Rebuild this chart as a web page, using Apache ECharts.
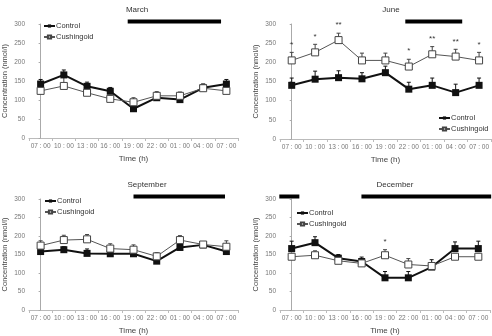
<!DOCTYPE html>
<html>
<head>
<meta charset="utf-8">
<script src="https://cdn.jsdelivr.net/npm/echarts@6/dist/echarts.min.js"></script>
<style>
  html, body { margin: 0; padding: 0; background: #fff; }
  #chart { width: 492px; height: 336px; }
</style>
</head>
<body>
<div id="chart"></div>
<script>
  // sampling times
  var times = ['07 : 00', '10 : 00', '13 : 00', '16 : 00', '19 : 00', '22 : 00', '01 : 00', '04 : 00', '07 : 00'];
  var months = ['March', 'June', 'September', 'December'];

  // mean values and top of the error bar (mean + SEM), nmol/l
  var marchControl = [142, 166, 136, 123, 77, 106, 101, 132, 142];
  var marchControlTop = [154, 179, 147, 133, 86, 114, 109, 142, 154];
  var marchCushing = [124, 137, 119, 103, 94, 111, 111, 131, 124];
  var marchCushingTop = [132, 160, 127, 112, 106, 122, 121, 142, 132];

  var juneControl = [140, 156, 160, 157, 173, 130, 140, 121, 140];
  var juneControlTop = [159, 177, 178, 173, 190, 148, 159, 143, 159];
  var juneCushing = [205, 226, 258, 205, 205, 189, 221, 215, 205];
  var juneCushingTop = [226, 247, 276, 224, 224, 208, 241, 234, 226];
  var juneSig = ['*', '*', '**', '', '', '*', '**', '**', '*'];

  var septControl = [158, 163, 153, 152, 152, 132, 169, 176, 158];
  var septControlTop = [166, 171, 165, 160, 160, 139, 177, 182, 166];
  var septCushing = [174, 189, 191, 166, 163, 145, 189, 177, 171];
  var septCushingTop = [187, 202, 204, 179, 176, 155, 201, 183, 187];

  var decControl = [166, 182, 140, 131, 87, 87, 116, 166, 166];
  var decControlTop = [186, 198, 150, 143, 104, 104, 136, 184, 186];
  var decCushing = [144, 148, 133, 126, 148, 123, 119, 144, 144];
  var decCushingTop = [153, 160, 141, 136, 163, 139, 127, 153, 153];
  var decSig = ['', '', '', '', '*', '', '', '', ''];

  // dark period, in sampling-step units from the first 07:00 point
  var marchDark = [[3.75, 7.77]];
  var juneDark = [[4.85, 7.28]];
  var septDark = [[4.0, 7.94]];
  var decDark = [[-0.53, 0.33], [2.99, 8.55]];

  var panels = [
    { c: marchControl, ct: marchControlTop, k: marchCushing, kt: marchCushingTop, sig: null, dark: marchDark },
    { c: juneControl, ct: juneControlTop, k: juneCushing, kt: juneCushingTop, sig: juneSig, dark: juneDark },
    { c: septControl, ct: septControlTop, k: septCushing, kt: septCushingTop, sig: null, dark: septDark },
    { c: decControl, ct: decControlTop, k: decCushing, kt: decCushingTop, sig: decSig, dark: decDark }
  ];

  var FONT = "'Liberation Sans Narrow', 'Liberation Sans', sans-serif";

  var grids = [
    { left: 26, top: 24, width: 212, height: 114 },
    { left: 280, top: 24, width: 211, height: 115 },
    { left: 26, top: 199, width: 212, height: 115 },
    { left: 280, top: 199, width: 210, height: 115 }
  ];
  var titlePos = [[132, 1], [386, 1], [142, 176], [390, 176]];
  var legendPos = [
    { left: 43, top: 22 },
    { left: 438, top: 114 },
    { left: 44, top: 197 },
    { left: 296, top: 209 }
  ];

  function errItem(color) {
    return function (params, api) {
      var p0 = api.coord([api.value(0), api.value(1)]);
      var p1 = api.coord([api.value(0), api.value(2)]);
      return {
        type: 'group',
        children: [
          { type: 'line', shape: { x1: p0[0], y1: p0[1], x2: p1[0], y2: p1[1] }, style: { stroke: color, lineWidth: 1 } },
          { type: 'line', shape: { x1: p1[0] - 2, y1: p1[1], x2: p1[0] + 2, y2: p1[1] }, style: { stroke: color, lineWidth: 1 } }
        ]
      };
    };
  }

  function errData(mean, top) {
    return mean.map(function (v, i) { return [i, v, top[i]]; });
  }

  var chart = echarts.init(document.getElementById('chart'));
  var title = [], xAxis = [], yAxis = [], series = [], legend = [];

  panels.forEach(function (p, i) {
    title.push({
      text: months[i], left: titlePos[i][0], top: titlePos[i][1], textAlign: 'center',
      textStyle: { fontFamily: FONT, fontSize: 8, fontWeight: 'normal', color: '#333' }
    });
    legend.push({
      left: legendPos[i].left, top: legendPos[i].top, orient: 'vertical',
      itemWidth: 11, itemHeight: 4, itemGap: 3, padding: 0,
      data: ['Control', 'Cushingoid'].map(function (n) { return { name: n }; }),
      textStyle: { fontFamily: FONT, fontSize: 7.5, color: '#333', padding: [0, 0, 0, -4] }
    });
    xAxis.push({
      type: 'category', gridIndex: i, data: times,
      name: 'Time (h)', nameLocation: 'middle', nameGap: 17,
      nameTextStyle: { fontFamily: FONT, fontSize: 8, color: '#444' },
      axisLine: { lineStyle: { color: '#bbb', width: 1 } },
      axisTick: { show: true, length: 3, lineStyle: { color: '#bbb' } },
      axisLabel: { interval: 0, fontFamily: FONT, fontSize: 6.5, color: '#777', margin: 5 }
    });
    xAxis.push({
      type: 'value', gridIndex: i, min: -0.5, max: 8.5, show: false
    });
    yAxis.push({
      type: 'value', gridIndex: i, min: 0, max: 300, interval: 50,
      name: 'Concentration (nmol/l)', nameLocation: 'middle', nameGap: 20,
      nameTextStyle: { fontFamily: FONT, fontSize: 7.5, color: '#444' },
      axisLine: { show: true, lineStyle: { color: '#aaa', width: 1 } },
      axisTick: { show: true, length: 2, lineStyle: { color: '#aaa' } },
      axisLabel: { fontFamily: FONT, fontSize: 6.5, color: '#777', margin: 4 },
      splitLine: { show: false }
    });

    var cx = i * 2;
    series.push({
      type: 'custom', xAxisIndex: cx, yAxisIndex: i, z: 1, silent: true,
      renderItem: errItem('#111'), encode: { x: 0, y: [1, 2] },
      data: errData(p.c, p.ct)
    });
    series.push({
      type: 'custom', xAxisIndex: cx, yAxisIndex: i, z: 1, silent: true,
      renderItem: errItem('#444'), encode: { x: 0, y: [1, 2] },
      data: errData(p.k, p.kt)
    });
    series.push({
      name: 'Control', type: 'line', xAxisIndex: cx, yAxisIndex: i, z: 3,
      data: p.c, symbol: 'rect', symbolSize: 7, showAllSymbol: true,
      lineStyle: { color: '#111', width: 2 },
      itemStyle: { color: '#111', borderColor: '#111', borderWidth: 0 }
    });
    series.push({
      name: 'Cushingoid', type: 'line', xAxisIndex: cx, yAxisIndex: i, z: 4,
      data: p.k, symbol: 'rect', symbolSize: 7, showAllSymbol: true,
      lineStyle: { color: '#555', width: 1 },
      itemStyle: { color: '#fff', borderColor: '#444', borderWidth: 1 }
    });
    if (p.sig) {
      series.push({
        type: 'custom', xAxisIndex: cx, yAxisIndex: i, z: 5, silent: true,
        encode: { x: 0, y: 1 },
        data: p.kt.map(function (v, j) { return [j, v, p.sig[j]]; }),
        renderItem: function (params, api) {
          var s = p.sig[params.dataIndex];
          if (!s) return null;
          var pt = api.coord([api.value(0), api.value(1)]);
          return {
            type: 'text',
            style: { text: s, x: pt[0], y: pt[1] - 4, align: 'center', verticalAlign: 'bottom',
                     fontSize: 8, fontFamily: FONT, fill: '#333' }
          };
        }
      });
    }
    series.push({
      type: 'custom', xAxisIndex: cx + 1, yAxisIndex: i, z: 5, silent: true,
      encode: { x: [0, 1], y: 2 },
      data: p.dark.map(function (d) { return [d[0], d[1], 300]; }),
      renderItem: function (params, api) {
        var a = api.coord([api.value(0), api.value(2)]);
        var b = api.coord([api.value(1), api.value(2)]);
        return {
          type: 'rect',
          shape: { x: a[0], y: a[1] - 4.5, width: b[0] - a[0], height: 4 },
          style: { fill: '#000' }
        };
      }
    });
  });

  chart.setOption({
    animation: false,
    backgroundColor: '#fff',
    title: title,
    legend: legend,
    grid: grids,
    xAxis: xAxis,
    yAxis: yAxis,
    series: series
  });
</script>
</body>
</html>
